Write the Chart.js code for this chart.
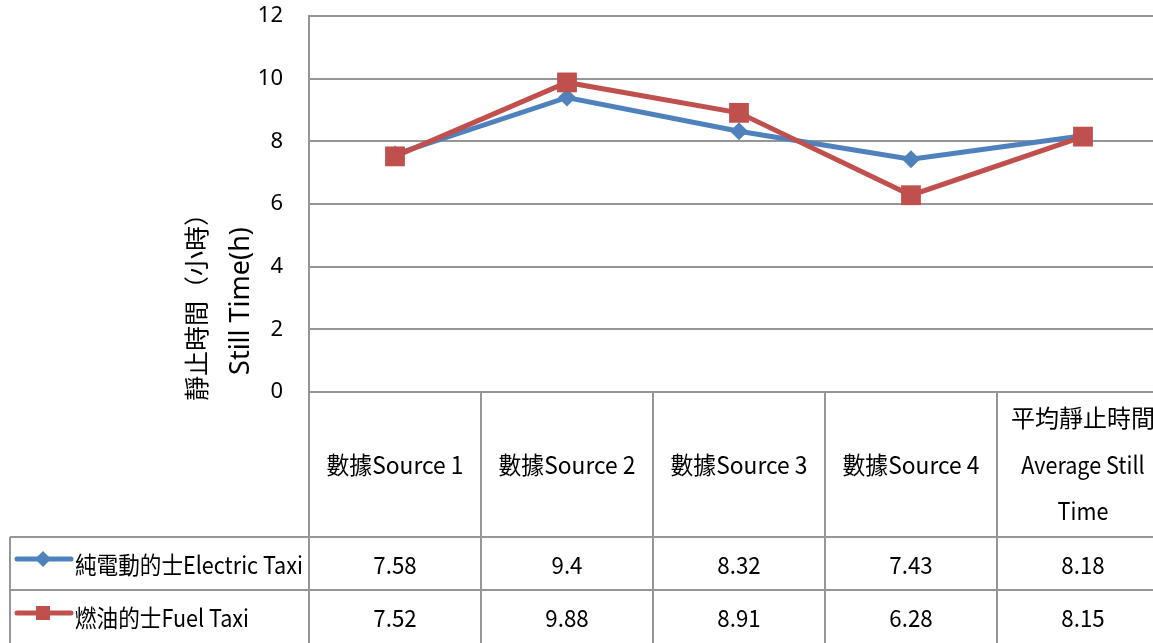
<!DOCTYPE html>
<html>
<head>
<meta charset="utf-8">
<script src="https://cdn.jsdelivr.net/npm/chart.js@4/dist/chart.umd.min.js"></script>
<style>
  html, body { margin: 0; padding: 0; background: #fff; overflow: hidden; }
  #wrap { width: 1153px; height: 643px; overflow: hidden; }
  canvas { display: block; }
</style>
</head>
<body>
<div id="wrap"><canvas id="c" width="1170" height="643"></canvas></div>
<script>
// Categories (table header, each may wrap over several lines)
const categories = [
  ['數據Source 1'],
  ['數據Source 2'],
  ['數據Source 3'],
  ['數據Source 4'],
  ['平均靜止時間', 'Average Still', 'Time']
];
const seriesNames = ['純電動的士Electric Taxi', '燃油的士Fuel Taxi'];
const electricTaxi = [7.58, 9.4, 8.32, 7.43, 8.18];
const fuelTaxi = [7.52, 9.88, 8.91, 6.28, 8.15];
const yTitleLines = ['靜止時間（小時）', 'Still Time(h)'];
const yTicks = [0, 2, 4, 6, 8, 10, 12];

const BLUE = '#4F81BD';
const RED = '#C0504D';
const GRID = '#969696';
const CJK = '"Noto Sans CJK TC", "Noto Sans", sans-serif';

// fillText with a horizontal squeeze factor (latin glyphs are set tight)
function tightText(ctx, text, x, y, squeeze) {
  const w = ctx.measureText(text).width;
  ctx.fillText(text, x, y, w * squeeze);
}

function squeezeFor(text) {
  if (/^[\x00-\x7f]+$/.test(text)) return 0.9;      // pure latin
  if (!/[\x00-\x7f]/.test(text)) return 1;          // pure CJK
  return 0.95;                                      // mixed
}

// Draws the y-axis title and the data table under the plot
const tablePlugin = {
  id: 'dataTable',
  afterDraw(chart) {
    const ctx = chart.ctx;
    const area = chart.chartArea;
    const xs = chart.scales.x;
    const band = (area.right - area.left) / categories.length;
    const tableTop = area.bottom;
    const headBottom = 537;
    const row1Bottom = 590;
    const tableBottom = chart.height;
    const legendLeft = 10;

    ctx.save();
    // axis title, rotated
    ctx.fillStyle = '#000';
    ctx.textAlign = 'center';
    ctx.textBaseline = 'middle';
    const titleY = 301;
    const titleX = [196, 241];
    const titleFonts = ['25px ' + CJK, '27px "Noto Sans", sans-serif'];
    yTitleLines.forEach((t, i) => {
      ctx.save();
      ctx.translate(titleX[i], titleY);
      ctx.rotate(-Math.PI / 2);
      ctx.font = titleFonts[i];
      ctx.fillText(t, 0, 0);
      ctx.restore();
    });

    // table grid
    ctx.strokeStyle = GRID;
    ctx.lineWidth = 2;
    ctx.beginPath();
    ctx.moveTo(legendLeft, headBottom); ctx.lineTo(area.right, headBottom);
    ctx.moveTo(legendLeft, row1Bottom); ctx.lineTo(area.right, row1Bottom);
    ctx.moveTo(legendLeft, headBottom); ctx.lineTo(legendLeft, tableBottom);
    ctx.moveTo(area.left, tableTop); ctx.lineTo(area.left, tableBottom);
    for (let i = 0; i < categories.length; i++) {
      const xr = Math.round(xs.getPixelForValue(i) + band / 2);
      ctx.moveTo(xr, tableTop); ctx.lineTo(xr, tableBottom);
    }
    ctx.stroke();

    // header texts
    ctx.fillStyle = '#000';
    ctx.font = '24px ' + CJK;
    const headMid = (tableTop + headBottom) / 2;
    const lh = 46.5;
    categories.forEach((lines, i) => {
      const cx = xs.getPixelForValue(i);
      const y0 = headMid - (lines.length - 1) * lh / 2;
      lines.forEach((t, k) => tightText(ctx, t, cx, y0 + k * lh, squeezeFor(t)));
    });

    // values
    const rows = [electricTaxi, fuelTaxi];
    const rowMid = [(headBottom + row1Bottom) / 2 + 1, (row1Bottom + tableBottom) / 2 + 1];
    rows.forEach((vals, r) => {
      vals.forEach((v, i) => {
        tightText(ctx, String(v), xs.getPixelForValue(i), rowMid[r], 0.93);
      });
    });

    // legend keys and series names
    const keyY = [559, 613];
    const colors = [BLUE, RED];
    seriesNames.forEach((name, r) => {
      ctx.strokeStyle = colors[r];
      ctx.lineWidth = 5;
      ctx.lineCap = 'round';
      ctx.beginPath();
      ctx.moveTo(17, keyY[r]); ctx.lineTo(71, keyY[r]);
      ctx.stroke();
      ctx.fillStyle = colors[r];
      ctx.beginPath();
      if (r === 0) {
        ctx.moveTo(43, keyY[r] - 8); ctx.lineTo(51, keyY[r]);
        ctx.lineTo(43, keyY[r] + 8); ctx.lineTo(35, keyY[r]);
        ctx.closePath();
        ctx.fill();
      } else {
        ctx.fillRect(36, keyY[r] - 7, 14, 14);
      }
      ctx.fillStyle = '#000';
      ctx.textAlign = 'left';
      tightText(ctx, name, 75, rowMid[r], 0.9);
    });
    ctx.restore();
  }
};

new Chart(document.getElementById('c'), {
  type: 'line',
  data: {
    labels: categories.map(c => c.join(' ')),
    datasets: [
      {
        label: seriesNames[0],
        data: electricTaxi,
        borderColor: BLUE,
        backgroundColor: BLUE,
        borderWidth: 5,
        pointStyle: 'rectRot',
        pointRadius: 9,
        pointBorderWidth: 0,
        pointBackgroundColor: BLUE,
        tension: 0,
        order: 1
      },
      {
        label: seriesNames[1],
        data: fuelTaxi,
        borderColor: RED,
        backgroundColor: RED,
        borderWidth: 5,
        pointStyle: 'rect',
        pointRadius: 14,
        pointBorderWidth: 0,
        pointBackgroundColor: RED,
        tension: 0,
        order: 0
      }
    ]
  },
  options: {
    responsive: false,
    devicePixelRatio: 1,
    animation: false,
    layout: { autoPadding: false, padding: { top: 16, bottom: 251, left: 0, right: 1 } },
    plugins: { legend: { display: false }, tooltip: { enabled: false } },
    scales: {
      x: {
        type: 'category',
        offset: true,
        display: false,
        ticks: { display: false }
      },
      y: {
        min: 0,
        max: 12,
        afterFit(scale) { scale.width = 309; scale.paddingTop = 0; scale.paddingBottom = 0; },
        afterBuildTicks(scale) { scale.ticks = yTicks.map(v => ({ value: v })); },
        ticks: {
          padding: 26,
          color: '#000',
          font: { family: '"Noto Sans", sans-serif', size: 22 }
        },
        grid: { color: GRID, lineWidth: 2, drawTicks: false },
        border: { display: true, color: GRID, width: 2 }
      }
    }
  },
  plugins: [tablePlugin]
});
</script>
</body>
</html>
